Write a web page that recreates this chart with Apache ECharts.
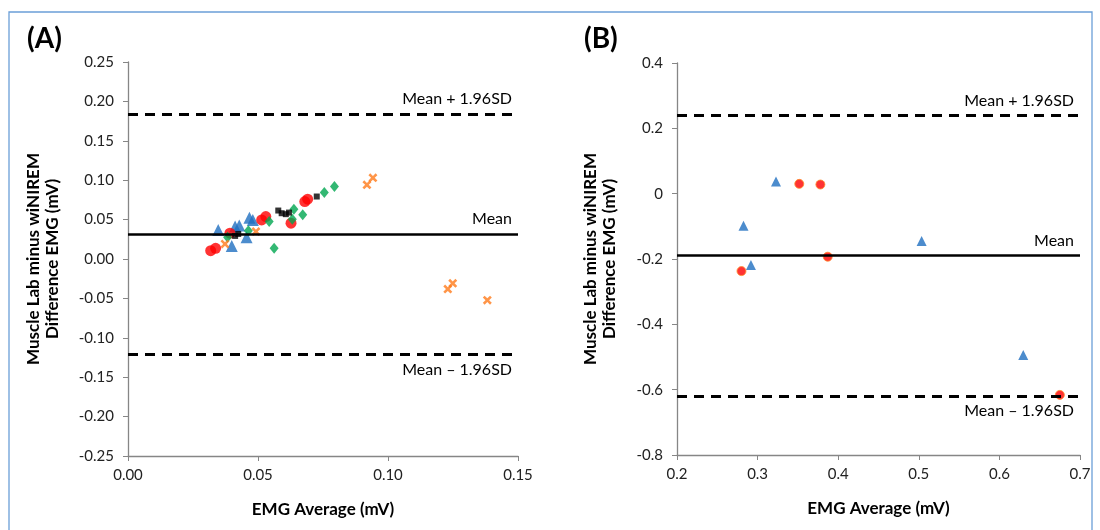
<!DOCTYPE html>
<html>
<head>
<meta charset="utf-8">
<script src="https://cdn.jsdelivr.net/npm/echarts@6/dist/echarts.min.js"></script>
<style>
  html, body { margin: 0; padding: 0; background: #fff; }
  #chart { width: 1100px; height: 530px; }
</style>
</head>
<body>
<div id="chart"></div>
<script>
// Panel A data  [EMG average, difference]
const aRed = [[0.0318, 0.0106], [0.0337, 0.0136], [0.0392, 0.0327], [0.0514, 0.0496], [0.0530, 0.0538], [0.0627, 0.0454], [0.0680, 0.0729], [0.0691, 0.0759]];
const aBlue = [[0.0347, 0.0369], [0.0399, 0.0165], [0.0412, 0.0411], [0.0428, 0.0424], [0.0456, 0.0276], [0.0467, 0.0525], [0.0480, 0.0496]];
const aBlack = [[0.0412, 0.0293], [0.0424, 0.0318], [0.0578, 0.0615], [0.0591, 0.0581], [0.0607, 0.0569], [0.0619, 0.0589], [0.0726, 0.0793]];
const aGreen = [[0.0383, 0.0276], [0.0463, 0.0360], [0.0543, 0.0475], [0.0562, 0.0136], [0.0632, 0.0505], [0.0638, 0.0632], [0.0672, 0.0560], [0.0755, 0.0844], [0.0794, 0.0920]];
const aOrange = [[0.0373, 0.0191], [0.0492, 0.0348], [0.0919, 0.0941], [0.0942, 0.1030], [0.1230, -0.0382], [0.1249, -0.0309], [0.1382, -0.0522]];
const aMean = 0.0315, aUpper = 0.184, aLower = -0.121;

// Panel B data
const bBlue = [[0.2825, -0.098], [0.2917, -0.218], [0.3228, 0.037], [0.5035, -0.145], [0.6296, -0.494]];
const bRed = [[0.280, -0.237], [0.3517, 0.030], [0.3779, 0.028], [0.387, -0.193], [0.675, -0.616]];
const bMean = -0.19, bUpper = 0.239, bLower = -0.62;

const font = 'Lato, "Open Sans", sans-serif';
const starPath = 'path://M0,2 L2,0 L5,3 L8,0 L10,2 L7,5 L10,8 L8,10 L5,7 L2,10 L0,8 L3,5 Z';

function refLines(mean, upper, lower) {
  const lbl = { color: '#000', fontFamily: font, fontSize: 16, distance: [6, 7] };
  return {
    silent: true,
    symbol: 'none',
    animation: false,
    precision: 4,
    data: [
      { yAxis: upper, lineStyle: { type: [10, 7], width: 3, color: '#000' },
        label: Object.assign({ position: 'insideEndTop', formatter: 'Mean + 1.96SD' }, lbl) },
      { yAxis: mean, lineStyle: { type: 'solid', width: 2.5, color: '#000' },
        label: Object.assign({ position: 'insideEndTop', formatter: 'Mean' }, lbl) },
      { yAxis: lower, lineStyle: { type: [10, 7], width: 3, color: '#000' },
        label: Object.assign({ position: 'insideEndBottom', formatter: 'Mean \u2013 1.96SD' }, lbl) }
    ]
  };
}

const axisCommon = {
  axisLine: { onZero: false, lineStyle: { color: '#868686', width: 1.3 } },
  axisTick: { show: true, length: 5, lineStyle: { color: '#868686' } },
  splitLine: { show: false },
  axisLabel: { color: '#222', fontFamily: font, fontSize: 15 },
  nameTextStyle: { color: '#000', fontFamily: font, fontSize: 17, fontWeight: 'bold', lineHeight: 19 }
};

function xAx(idx, min, max, interval, dec) {
  return Object.assign({}, axisCommon, {
    type: 'value', gridIndex: idx, min: min, max: max, interval: interval,
    name: 'EMG Average (mV)', nameLocation: 'middle', nameGap: 44,
    axisLabel: Object.assign({}, axisCommon.axisLabel, { margin: 12, formatter: v => v.toFixed(dec) })
  });
}
function yAx(idx, min, max, interval, dec, zero, gap) {
  return Object.assign({}, axisCommon, {
    type: 'value', gridIndex: idx, min: min, max: max, interval: interval,
    name: 'Muscle Lab minus wiNIREM\nDifference EMG (mV)', nameLocation: 'middle', nameGap: gap,
    axisLabel: Object.assign({}, axisCommon.axisLabel, { margin: 14,
      formatter: v => (Math.abs(v) < 1e-9 ? zero : v.toFixed(dec)) })
  });
}

const chart = echarts.init(document.getElementById('chart'), null, { renderer: 'canvas' });
chart.setOption({
  animation: false,
  backgroundColor: '#fff',
  graphic: [
    { type: 'rect', shape: { x: 9, y: 12, width: 1083, height: 530 }, style: { fill: 'none', stroke: '#6b9fd8', lineWidth: 1.3 }, silent: true },
    { type: 'text', left: 27, top: 25, style: { text: '(A)', font: 'bold 28px ' + font, fill: '#000' } },
    { type: 'text', left: 584, top: 25, style: { text: '(B)', font: 'bold 28px ' + font, fill: '#000' } }
  ],
  grid: [
    { left: 128, top: 62, width: 390, height: 394 },
    { left: 677, top: 63, width: 403, height: 392 }
  ],
  xAxis: [xAx(0, 0, 0.15, 0.05, 2), xAx(1, 0.2, 0.7, 0.1, 1)],
  yAxis: [yAx(0, -0.25, 0.25, 0.05, 2, '0.00', 66), yAx(1, -0.8, 0.4, 0.2, 1, '0', 58)],
  series: [
    { type: 'scatter', xAxisIndex: 0, yAxisIndex: 0, data: [], markLine: refLines(aMean, aUpper, aLower) },
    { type: 'scatter', xAxisIndex: 0, yAxisIndex: 0, data: aBlue, symbol: 'triangle', symbolSize: 12, itemStyle: { color: '#1f6fc0' } },
    { type: 'scatter', xAxisIndex: 0, yAxisIndex: 0, data: aRed, symbol: 'circle', symbolSize: 11, itemStyle: { color: '#ff0000' } },
    { type: 'scatter', xAxisIndex: 0, yAxisIndex: 0, data: aGreen, symbol: 'diamond', symbolSize: [9, 11], itemStyle: { color: '#00a650' } },
    { type: 'scatter', xAxisIndex: 0, yAxisIndex: 0, data: aBlack, symbol: 'rect', symbolSize: 6, itemStyle: { color: '#000' } },
    { type: 'scatter', xAxisIndex: 0, yAxisIndex: 0, data: aOrange, symbol: starPath, symbolSize: 9, itemStyle: { color: '#ff7a1a' } },
    { type: 'scatter', xAxisIndex: 1, yAxisIndex: 1, data: [], markLine: refLines(bMean, bUpper, bLower) },
    { type: 'scatter', xAxisIndex: 1, yAxisIndex: 1, data: bBlue, symbol: 'triangle', symbolSize: 10, itemStyle: { color: '#1f6fc0' } },
    { type: 'scatter', xAxisIndex: 1, yAxisIndex: 1, data: bRed, symbol: 'circle', symbolSize: 9, itemStyle: { color: '#ff0000', borderColor: '#ff8c2a', borderWidth: 1 } }
  ]
});
</script>
</body>
</html>
